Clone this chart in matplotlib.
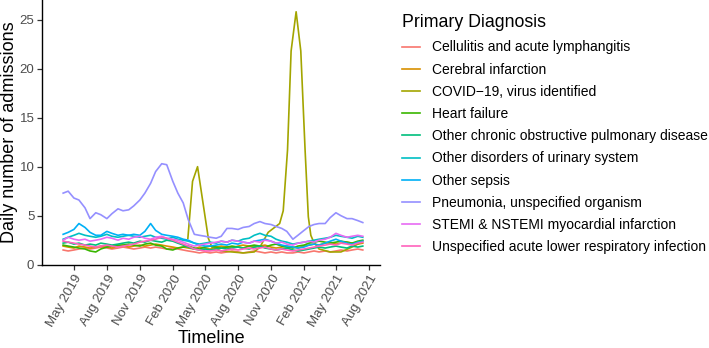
import matplotlib
matplotlib.use("Agg")
import matplotlib.pyplot as plt
import pandas as pd

plt.rcParams['font.family'] = ['Liberation Sans', 'DejaVu Sans']

# semi-monthly sample dates (1st and 15th), Apr 2019 - Jul 2021
dates = pd.date_range("2019-04-01", "2021-07-15", freq="SMS")

cellulitis = [1.5, 1.4, 1.5, 1.6, 1.7, 1.6, 1.7, 1.8, 1.7, 1.6, 1.7, 1.8, 1.7, 1.6, 1.7, 1.8, 1.7, 1.8,
              1.7, 1.6, 1.7, 1.6, 1.5, 1.4, 1.3, 1.2, 1.3, 1.2, 1.3, 1.2, 1.3, 1.4, 1.3, 1.2, 1.3, 1.4,
              1.3, 1.2, 1.3, 1.2, 1.3, 1.2, 1.2, 1.3, 1.2, 1.3, 1.4, 1.3, 1.4, 1.3, 1.4, 1.5, 1.4, 1.5,
              1.6, 1.5]
cerebral = [1.9, 1.8, 1.7, 1.9, 1.8, 1.7, 1.8, 1.9, 1.8, 1.7, 1.9, 2.0, 1.8, 1.9, 2.0, 1.9, 2.0, 2.1,
            2.0, 1.9, 1.8, 1.7, 1.8, 1.7, 1.6, 1.8, 1.7, 1.6, 1.8, 1.9, 1.8, 1.7, 1.9, 2.0, 1.9, 1.8,
            1.9, 2.0, 1.8, 1.7, 1.8, 1.9, 1.8, 1.7, 1.9, 2.0, 2.1, 2.0, 2.2, 2.3, 2.1, 2.2, 2.3, 2.2,
            2.1, 2.2]
heart_failure = [2.0, 1.9, 1.8, 1.7, 1.6, 1.4, 1.3, 1.6, 1.8, 1.9, 2.0, 2.0, 2.1, 2.0, 1.9, 2.1, 2.2, 2.0,
                 1.9, 1.6, 1.5, 1.7, 1.8, 1.9, 1.7, 1.6, 1.8, 1.9, 1.8, 1.7, 1.8, 1.9, 1.8, 1.7, 1.9, 2.0,
                 1.9, 1.8, 2.0, 2.1, 1.9, 1.8, 1.7, 1.9, 2.0, 2.2, 2.3, 2.4, 2.3, 2.2, 2.3, 2.4, 2.3, 2.2,
                 2.4, 2.5]
copd = [2.2, 2.3, 2.1, 2.2, 2.0, 2.1, 2.0, 2.2, 2.1, 2.0, 2.1, 2.2, 2.3, 2.2, 2.4, 2.3, 2.5, 2.4,
        2.3, 2.5, 2.4, 2.2, 2.0, 1.8, 1.6, 1.5, 1.6, 1.5, 1.6, 1.7, 1.6, 1.7, 1.8, 1.7, 1.6, 1.8,
        1.9, 1.7, 1.6, 1.5, 1.6, 1.7, 1.5, 1.4, 1.5, 1.6, 1.7, 1.8, 1.7, 1.8, 1.9, 1.8, 1.7, 1.9,
        1.8, 1.9]
urinary = [2.6, 2.8, 3.0, 3.2, 3.0, 2.9, 2.8, 2.9, 3.1, 2.9, 2.8, 2.9, 3.0, 2.9, 2.8, 2.9, 3.0, 2.8,
           2.7, 2.6, 2.8, 2.6, 2.5, 2.4, 2.2, 2.1, 2.2, 2.3, 2.2, 2.4, 2.3, 2.5, 2.4, 2.6, 2.7, 3.0,
           3.2, 3.0, 2.9, 2.6, 2.4, 2.3, 2.1, 2.2, 2.3, 2.4, 2.5, 2.6, 2.7, 2.8, 3.0, 2.9, 2.8, 2.7,
           2.9, 2.8]
sepsis = [3.1, 3.3, 3.6, 4.2, 3.8, 3.3, 3.0, 3.0, 3.4, 3.2, 3.0, 3.1, 3.0, 3.1, 3.0, 3.4, 4.2, 3.5,
          3.1, 3.0, 2.9, 2.8, 2.6, 2.5, 2.2, 2.0, 1.9, 1.9, 2.0, 2.1, 2.0, 2.2, 2.1, 2.3, 2.2, 2.4,
          2.5, 2.6, 2.4, 2.2, 2.0, 1.9, 1.8, 1.7, 1.8, 2.0, 2.1, 2.0, 2.2, 2.4, 2.6, 2.4, 2.2, 2.1,
          2.3, 2.4]
pneumonia = [7.3, 7.5, 6.8, 6.6, 5.8, 4.7, 5.3, 5.1, 4.7, 5.2, 5.7, 5.5, 5.6, 6.0, 6.6, 7.3, 8.3, 9.5,
             10.3, 10.2, 8.5, 7.3, 6.3, 4.6, 3.1, 3.0, 2.9, 2.8, 2.7, 2.9, 3.7, 3.7, 3.6, 3.8, 3.9, 4.2,
             4.4, 4.2, 4.1, 3.9, 3.7, 3.4, 2.6, 3.0, 3.5, 3.9, 4.1, 4.2, 4.2, 4.8, 5.3, 5.0, 4.7, 4.7,
             4.5, 4.3]
stemi = [2.5, 2.8, 2.6, 2.5, 2.6, 2.4, 2.5, 2.6, 2.8, 2.7, 2.5, 2.7, 2.6, 2.8, 2.9, 2.7, 2.6, 2.8,
         2.9, 2.7, 2.6, 2.5, 2.3, 2.1, 1.9, 2.0, 2.1, 2.2, 2.3, 2.4, 2.3, 2.5, 2.4, 2.3, 2.2, 2.4,
         2.3, 2.5, 2.4, 2.2, 2.3, 2.1, 2.0, 2.2, 2.3, 2.4, 2.3, 2.5, 2.6, 2.8, 3.2, 3.0, 2.8, 2.9,
         3.0, 2.9]
lrti = [2.4, 2.3, 2.2, 2.1, 2.0, 1.9, 1.8, 1.9, 2.0, 1.9, 1.8, 1.9, 2.0, 2.1, 2.3, 2.4, 2.5, 2.6,
        2.8, 2.7, 2.5, 2.3, 2.1, 1.9, 1.6, 1.5, 1.4, 1.4, 1.5, 1.4, 1.5, 1.6, 1.5, 1.6, 1.7, 1.6,
        1.7, 1.8, 1.6, 1.5, 1.6, 1.5, 1.4, 1.5, 1.6, 1.7, 1.8, 1.9, 2.0, 2.1, 2.0, 2.2, 2.1, 2.0,
        2.2, 2.3]

covid_dates = pd.to_datetime([
    "2020-03-14", "2020-03-27", "2020-04-10", "2020-05-10", "2020-05-20", "2020-06-15",
    "2020-07-15", "2020-08-15", "2020-09-15", "2020-10-01", "2020-10-24", "2020-11-25",
    "2020-12-05", "2020-12-17", "2020-12-27", "2021-01-10", "2021-01-23", "2021-02-04",
    "2021-02-13", "2021-02-20", "2021-02-27", "2021-03-15", "2021-04-15", "2021-05-15",
    "2021-06-15", "2021-07-12"])
covid = [2.7, 8.5, 10.0, 2.7, 1.8, 1.4, 1.3, 1.2, 1.3, 1.8, 3.3, 4.2,
         5.5, 11.7, 21.8, 25.8, 21.8, 11.7, 4.9, 3.0, 2.4, 1.6, 1.3, 1.3,
         1.8, 2.3]

labels = ["Cellulitis and acute lymphangitis", "Cerebral infarction", "COVID\u221219, virus identified",
          "Heart failure", "Other chronic obstructive pulmonary disease", "Other disorders of urinary system",
          "Other sepsis", "Pneumonia, unspecified organism", "STEMI & NSTEMI myocardial infarction",
          "Unspecified acute lower respiratory infection"]
colors = ["#F8766D", "#D89000", "#A3A500", "#39B600", "#00BF7D", "#00BFC4",
          "#00B0F6", "#9590FF", "#E76BF3", "#FF62BC"]

series = [(dates, cellulitis), (dates, cerebral), (covid_dates, covid), (dates, heart_failure),
          (dates, copd), (dates, urinary), (dates, sepsis), (dates, pneumonia), (dates, stemi), (dates, lrti)]

W, H = 709, 348
fig = plt.figure(figsize=(W / 100, H / 100), dpi=100)
ax = fig.add_axes([42 / W, (H - 265) / H, (380 - 42) / W, 265 / H])

handles = []
for (d, v), lab, c in zip(series, labels, colors):
    h, = ax.plot(d, v, color=c, lw=1.2, label=lab)
    handles.append(h)

ax.set_xlim(pd.Timestamp("2019-02-01"), pd.Timestamp("2021-09-01"))
ax.set_ylim(-0.03, 27.0)
ax.set_yticks([0, 5, 10, 15, 20, 25])

ticks = pd.to_datetime(["2019-05-01", "2019-08-01", "2019-11-01", "2020-02-01", "2020-05-01",
                        "2020-08-01", "2020-11-01", "2021-02-01", "2021-05-01", "2021-08-01"])
ax.set_xticks(ticks)
ax.set_xticklabels([t.strftime("%b %Y") for t in ticks], rotation=60, ha='right',
                   rotation_mode='anchor')

for s in ['top', 'right']:
    ax.spines[s].set_visible(False)
for s in ['left', 'bottom']:
    ax.spines[s].set_linewidth(1.0)
    ax.spines[s].set_color('black')
ax.tick_params(axis='both', colors='#333333', labelcolor='#4D4D4D', labelsize=9.5, length=3.5, width=0.9)
ax.tick_params(axis='x', pad=2)
ax.tick_params(axis='y', pad=2)

ax.set_xlabel("Timeline", fontsize=13)
ax.set_ylabel("Daily number of admissions", fontsize=13)
ax.xaxis.set_label_coords(0.5, -0.247)
ax.yaxis.set_label_coords(-0.071, 0.5)

leg = fig.legend(handles=handles, labels=labels, loc='upper left',
                 bbox_to_anchor=(401 / W, 1 - 12.5 / H), frameon=False, fontsize=10,
                 title="Primary Diagnosis", title_fontsize=12.8, alignment='left',
                 handlelength=1.3, handletextpad=0.8, labelspacing=0.59, borderpad=0.1,
                 borderaxespad=0)
try:
    leg._legend_box.sep += 1.0
except Exception:
    pass

fig.savefig("out.png", dpi=100)
